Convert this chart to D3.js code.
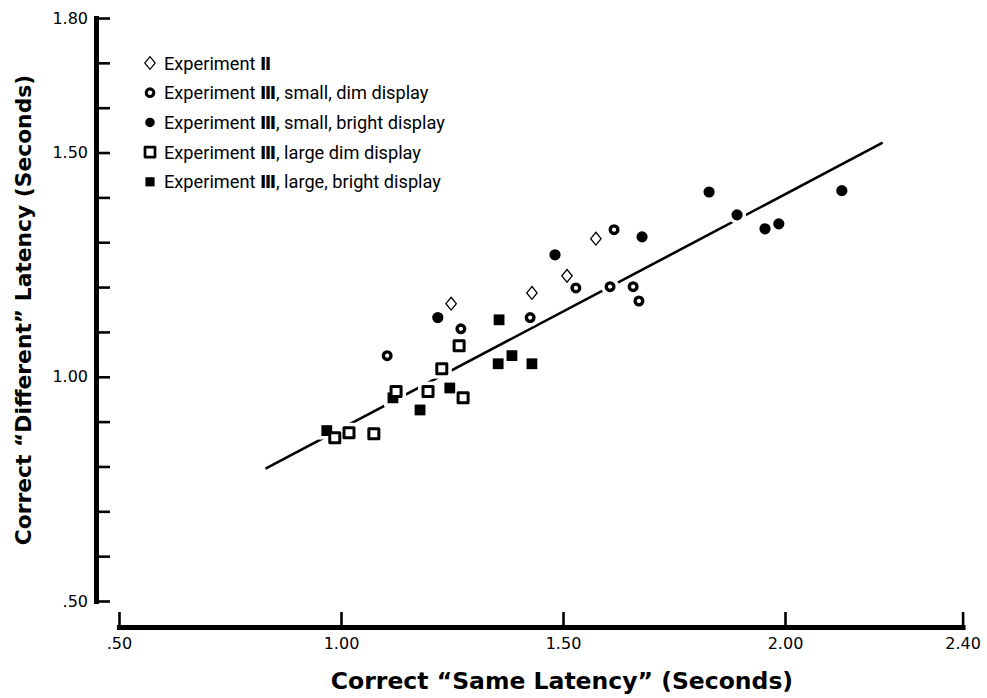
<!DOCTYPE html>
<html>
<head>
<meta charset="utf-8">
<script src="https://cdn.jsdelivr.net/npm/d3@7"></script>
<style>
  body { margin: 0; background: #fff; }
  svg { display: block; }
</style>
</head>
<body>
<script>

// Values, in seconds
var expII_same = [1.248, 1.430, 1.509, 1.574]
var expII_diff = [1.163, 1.187, 1.225, 1.308]

var smallDim_same = [1.104, 1.270, 1.426, 1.529, 1.606, 1.658, 1.671, 1.615]
var smallDim_diff = [1.047, 1.107, 1.132, 1.198, 1.201, 1.201, 1.169, 1.328]

var smallBright_same = [1.218, 1.482, 1.678, 1.829, 1.892, 1.955, 1.986, 2.128]
var smallBright_diff = [1.132, 1.272, 1.312, 1.412, 1.361, 1.330, 1.341, 1.415]

var largeDim_same = [0.986, 1.018, 1.074, 1.124, 1.196, 1.227, 1.266, 1.275]
var largeDim_diff = [0.864, 0.875, 0.873, 0.967, 0.967, 1.018, 1.069, 0.953]

var largeBright_same = [0.968, 1.117, 1.178, 1.245, 1.356, 1.354, 1.385, 1.430]
var largeBright_diff = [0.880, 0.953, 0.926, 0.975, 1.127, 1.029, 1.047, 1.029]

// fitted line, its two end points
var fit_same = [0.83, 2.22]
var fit_diff = [0.795, 1.522]

var xTicks = [0.5, 1.0, 1.5, 2.0, 2.4]
var xTickLabels = [".50", "1.00", "1.50", "2.00", "2.40"]
var yTicks = d3.range(5, 19).map(v => v / 10)
var yLabelled = [0.5, 1.0, 1.5, 1.8]
var yTickLabels = [".50", "1.00", "1.50", "1.80"]

var xTitle = "Correct \u201CSame Latency\u201D (Seconds)"
var yTitle = "Correct \u201CDifferent\u201D Latency (Seconds)"

// legend text: [before numeral, numeral, after numeral]
var legendText = [
  ["Experiment ", "\u2161", ""],
  ["Experiment ", "\u2162", ", small, dim display"],
  ["Experiment ", "\u2162", ", small, bright display"],
  ["Experiment ", "\u2162", ", large dim display"],
  ["Experiment ", "\u2162", ", large, bright display"]
]
var legendMarks = ["diamond", "ring", "dot", "box", "block"]


var W = 987, H = 698

var svg = d3.select("body").append("svg")
    .attr("width", W)
    .attr("height", H)

var x = d3.scaleLinear().domain([0.5, 2.4]).range([119, 962.6])
var y = d3.scaleLinear().domain([0.5, 1.8]).range([601, 18])

// Axes
var yAxis = d3.axisLeft(y)
    .tickValues(yTicks)
    .tickSize(-14)
    .tickSizeOuter(0)
    .tickPadding(8)
    .tickFormat(d => {
      var i = yLabelled.findIndex(v => Math.abs(v - d) < 1e-6)
      return i < 0 ? "" : yTickLabels[i]
    })

var xAxis = d3.axisBottom(x)
    .tickValues(xTicks)
    .tickSize(-15)
    .tickSizeOuter(0)
    .tickPadding(11)
    .tickFormat((d, i) => xTickLabels[i])

var gy = svg.append("g")
    .attr("transform", "translate(96,0)")
    .call(yAxis)

var gx = svg.append("g")
    .attr("transform", "translate(0,627)")
    .call(xAxis)

;[gx, gy].forEach(g => {
  g.attr("font-family", "'DejaVu Sans', sans-serif")
   .attr("font-size", 16)
  g.select(".domain")
   .attr("stroke", "#000")
   .attr("stroke-width", 5)
   .attr("stroke-linecap", "square")
  g.selectAll(".tick line")
   .attr("stroke", "#000")
   .attr("stroke-width", 2.6)
  g.selectAll(".tick text").attr("fill", "#000")
})

// Axis titles
svg.append("text")
    .attr("x", 562)
    .attr("y", 689)
    .attr("text-anchor", "middle")
    .attr("font-family", "'DejaVu Sans', sans-serif")
    .attr("font-weight", "bold")
    .attr("font-size", 23.5)
    .text(xTitle)

svg.append("text")
    .attr("transform", "translate(31,310) rotate(-90)")
    .attr("text-anchor", "middle")
    .attr("font-family", "'DejaVu Sans', sans-serif")
    .attr("font-weight", "bold")
    .attr("font-size", 21.8)
    .text(yTitle)

// Fitted line
var line = d3.line()
    .x(d => x(d[0]))
    .y(d => y(d[1]))

svg.append("path")
    .datum(d3.zip(fit_same, fit_diff))
    .attr("d", line)
    .attr("fill", "none")
    .attr("stroke", "#000")
    .attr("stroke-width", 2.6)


// Markers
function markPath(type, cx, cy){
  var p = d3.path()
  if (type == "diamond"){
    p.moveTo(cx, cy - 6.4); p.lineTo(cx + 5.2, cy); p.lineTo(cx, cy + 6.4); p.lineTo(cx - 5.2, cy); p.closePath()
  }
  else if (type == "ring"){
    p.moveTo(cx + 3.8, cy); p.arc(cx, cy, 3.8, 0, 2 * Math.PI)
  }
  else if (type == "dot"){
    p.moveTo(cx + 5.6, cy); p.arc(cx, cy, 5.6, 0, 2 * Math.PI)
  }
  else if (type == "box"){
    p.rect(cx - 5, cy - 5, 10, 10)
  }
  else {
    p.rect(cx - 5.4, cy - 5.4, 10.8, 10.8)
  }
  return p.toString()
}

var markStyle = {
  diamond: {fill: "#fff", stroke: "#000", sw: 1.3, join: "miter"},
  ring:    {fill: "#fff", stroke: "#000", sw: 3.4, join: "round"},
  dot:     {fill: "#000", stroke: "none", sw: 0, join: "round"},
  box:     {fill: "#fff", stroke: "#000", sw: 3, join: "round"},
  block:   {fill: "#000", stroke: "none", sw: 0, join: "round"}
}

var series = [
  {type: "block",   xs: largeBright_same, ys: largeBright_diff},
  {type: "box",     xs: largeDim_same,    ys: largeDim_diff},
  {type: "dot",     xs: smallBright_same, ys: smallBright_diff},
  {type: "ring",    xs: smallDim_same,    ys: smallDim_diff},
  {type: "diamond", xs: expII_same,       ys: expII_diff}
]

var halos = svg.append("g")
var marks = svg.append("g")

series.forEach(s => {
  var pts = d3.zip(s.xs, s.ys)
  var st = markStyle[s.type]

  halos.selectAll(null)
      .data(pts)
      .join("path")
      .attr("d", d => markPath(s.type, x(d[0]), y(d[1])))
      .attr("fill", "#fff")
      .attr("stroke", "#fff")
      .attr("stroke-width", st.sw + 7)

  marks.selectAll(null)
      .data(pts)
      .join("path")
      .attr("d", d => markPath(s.type, x(d[0]), y(d[1])))
      .attr("fill", st.fill)
      .attr("stroke", st.stroke)
      .attr("stroke-width", st.sw)
      .attr("stroke-linejoin", st.join)
})

// Legend
var leg = svg.append("g")

legendText.forEach((parts, i) => {
  var cy = 63 + i * 29.7
  var type = legendMarks[i]
  var st = markStyle[type]

  leg.append("path")
      .attr("d", markPath(type, 150, cy))
      .attr("fill", st.fill)
      .attr("stroke", st.stroke)
      .attr("stroke-width", type == "diamond" ? 1.2 : st.sw * 0.9)
      .attr("stroke-linejoin", st.join)
      .attr("transform", type == "dot" || type == "block" ? `translate(150,${cy}) scale(0.85) translate(-150,${-cy})` : null)

  var t = leg.append("text")
      .attr("x", 164)
      .attr("y", cy + 6.5)
      .attr("font-family", "'Liberation Sans Narrow', 'Roboto', sans-serif")
      .attr("font-size", 18.2)
      .attr("fill", "#000")

  t.append("tspan").text(parts[0])
  t.append("tspan")
      .attr("font-family", "'DejaVu Sans', serif")
      .attr("font-size", 17)
      .attr("font-weight", "bold")
      .text(parts[1])
  t.append("tspan").text(parts[2])
})

</script>
</body>
</html>
